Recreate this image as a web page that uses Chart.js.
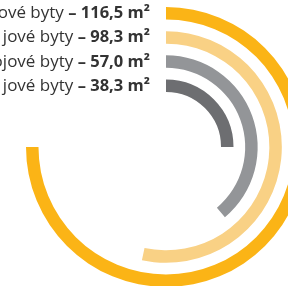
<!DOCTYPE html>
<html lang="cs">
<head>
    <meta charset="UTF-8">
    <title>Byty – průměrná plocha</title>
    <script src="https://cdn.jsdelivr.net/npm/chart.js"></script>
    <style>
        html, body {
            margin: 0;
            background: #fff;
            width: 288px;
            height: 286px;
            overflow: hidden;
        }
        .wrap {
            position: absolute;
            left: 0;
            top: 0;
            width: 320px;
            height: 300px;
        }
    </style>
</head>
<body>
    <div class="wrap"><canvas id="rings"></canvas></div>

    <script>
        // Data (visible part of the labels, the rest is cut off in the original)
        const labelNames = ['ové byty', 'jové byty', 'ojové byty', 'jové byty'];
        const areaLabels = ['– 116,5 m²', '– 98,3 m²', '– 57,0 m²', '– 38,3 m²'];
        // sweep of every arc in degrees
        const arcDegrees = [270, 192, 140, 90];
        const ringColors = ['#fbb416', '#f9d185', '#939598', '#6d6e71'];

        // ring + transparent gap datasets, outermost first
        const datasets = [];
        arcDegrees.forEach((deg, i) => {
            if (i > 0) {
                datasets.push({
                    data: [1],
                    backgroundColor: ['rgba(0,0,0,0)'],
                    borderWidth: 0,
                    weight: 11.7
                });
            }
            datasets.push({
                data: [deg, 360 - deg],
                backgroundColor: [ringColors[i], 'rgba(0,0,0,0)'],
                borderWidth: 0,
                weight: 12.5
            });
        });

        // labels to the left of each ring top
        const ringLabels = {
            id: 'ringLabels',
            afterDraw(chart) {
                const ctx = chart.ctx;
                ctx.save();
                ctx.textBaseline = 'alphabetic';
                ctx.fillStyle = '#333333';
                let ring = 0;
                chart.data.datasets.forEach((ds, di) => {
                    if (ds.data.length < 2) return;
                    const arc = chart.getDatasetMeta(di).data[0];
                    const y = arc.y - (arc.outerRadius + arc.innerRadius) / 2 + 5;
                    const xEnd = arc.x - 16;
                    ctx.font = 'bold 16.5px "Open Sans"';
                    const bold = areaLabels[ring];
                    const wb = ctx.measureText(bold).width;
                    ctx.textAlign = 'right';
                    ctx.fillText(bold, xEnd, y);
                    ctx.font = '17px "Open Sans"';
                    ctx.fillText(labelNames[ring] + ' ', xEnd - wb, y);
                    ring++;
                });
                ctx.restore();
            }
        };

        new Chart(document.getElementById('rings'), {
            type: 'doughnut',
            data: {
                labels: ['plocha', ''],
                datasets: datasets
            },
            options: {
                responsive: true,
                maintainAspectRatio: false,
                animation: false,
                cutout: '39.3%',
                events: [],
                layout: {
                    padding: { left: 26, top: 7, right: 14, bottom: 13 }
                },
                elements: {
                    arc: { hoverOffset: 0, offset: 0 }
                },
                plugins: {
                    legend: { display: false },
                    tooltip: { enabled: false }
                }
            },
            plugins: [ringLabels]
        });
    </script>
</body>
</html>
